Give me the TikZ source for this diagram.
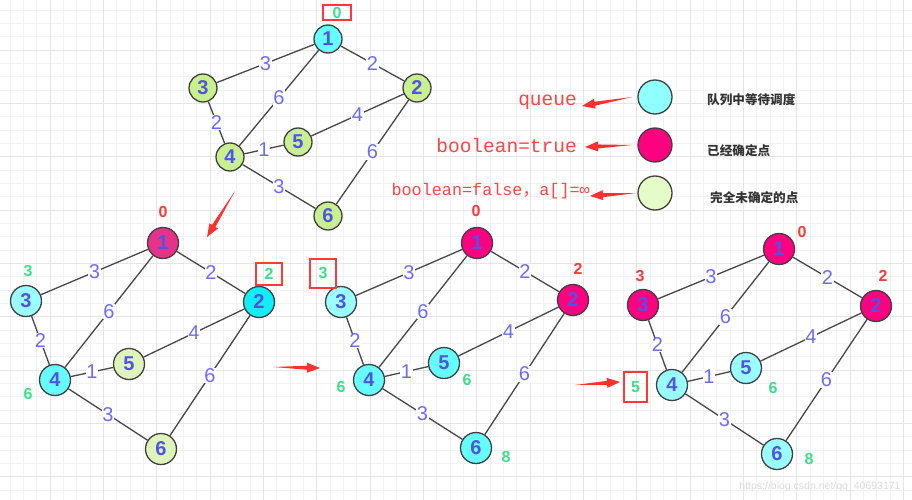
\documentclass[tikz,border=0pt]{standalone}
\usepackage{fontspec}
\setmainfont{Liberation Sans}
\newfontfamily\cjk{Noto Sans CJK SC}
\newfontfamily\codefont{Liberation Mono}
\usetikzlibrary{calc}

\definecolor{cyanq}{HTML}{66FFFF}
\definecolor{cyanl}{HTML}{99FFFF}
\definecolor{cyanb}{HTML}{11EEF8}
\definecolor{cyanleg}{HTML}{8FFFFF}
\definecolor{magok}{HTML}{FF0080}
\definecolor{magpk}{HTML}{E6338A}
\definecolor{greenv}{HTML}{C8F08F}
\definecolor{greenp}{HTML}{DDF5BA}
\definecolor{greenleg}{HTML}{E3FCC8}
\definecolor{numblue}{HTML}{5252E6}
\definecolor{wblue}{HTML}{6B6BFF}
\definecolor{lblgreen}{HTML}{3BE08A}
\definecolor{lblred}{HTML}{FF3838}
\definecolor{txtred}{HTML}{FF4444}
\definecolor{arrred}{HTML}{FF3030}

\newcommand\redarr[2]{\fill[arrred] (#1) -- ($($(#2)!13pt!(#1)$)!2pt!90:(#2)$) -- ($($(#2)!13pt!(#1)$)!5pt!90:(#2)$) -- (#2) -- ($($(#2)!13pt!(#1)$)!5pt!-90:(#2)$) -- ($($(#2)!13pt!(#1)$)!2pt!-90:(#2)$) -- cycle;}

\begin{document}
\begin{tikzpicture}[x=1pt,y=-1pt,
  vert/.style={circle,draw=black!75,line width=1.3pt,minimum size=31pt,inner sep=0pt,text=numblue,font=\fontsize{20}{20}\selectfont\bfseries},
  topv/.style={vert,minimum size=28pt},
  edge/.style={draw=black!72,line width=1.3pt},
  wlbl/.style={fill=white,inner sep=0.5pt,text=wblue,font=\fontsize{20}{20}\selectfont},
  slbl/.style={inner sep=0pt,font=\fontsize{16}{16}\selectfont\bfseries},
  gl/.style={slbl,text=lblgreen},
  rl/.style={slbl,text=lblred},
  lblbox/.style={draw=lblred,line width=1.2pt},
  legv/.style={circle,draw=black!75,line width=1.3pt,minimum size=34pt,inner sep=0pt},
  legcn/.style={anchor=west,inner sep=0pt,text=black!80,font=\cjk\fontsize{12.6}{13}\selectfont\bfseries},
  legcode/.style={anchor=east,inner sep=0pt,text=txtred,font=\codefont\fontsize{19.5}{20}\selectfont}]
\useasboundingbox (0,0) rectangle (912,500);
\fill[white] (0,0) rectangle (912,500);
\foreach \i in {0,...,68}
  \draw[black!5,line width=0.8pt] ({10+\i*13.3333},0) -- ({10+\i*13.3333},500);
\foreach \i in {0,...,37}
  \draw[black!5,line width=0.8pt] (0,{10+\i*13.3333}) -- (912,{10+\i*13.3333});
\foreach \i in {0,...,16}
  \draw[black!10,line width=0.8pt] ({50+\i*53.3333},0) -- ({50+\i*53.3333},500);
\foreach \i in {0,...,8}
  \draw[black!10,line width=0.8pt] (0,{50+\i*53.3333}) -- (912,{50+\i*53.3333});

\node[topv,fill=cyanq] (t1) at (328,39) {1};
\node[topv,fill=greenv] (t2) at (417,88) {2};
\node[topv,fill=greenv] (t3) at (203,88) {3};
\node[topv,fill=greenv] (t4) at (230,157) {4};
\node[topv,fill=greenv] (t5) at (298,142) {5};
\node[topv,fill=greenv] (t6) at (328,216) {6};
\node[gl,lblbox,minimum width=28pt,minimum height=15pt] (t0) at (337,12.5) {0};

\node[vert,fill=magpk] (a1) at (163,243) {1};
\node[vert,fill=cyanb] (a2) at (259,302) {2};
\node[vert,fill=cyanl] (a3) at (26,301) {3};
\node[vert,fill=cyanq] (a4) at (55,380) {4};
\node[vert,fill=greenp] (a5) at (129,364) {5};
\node[vert,fill=greenp] (a6) at (161,449) {6};
\node[rl] (a1d) at (163,212) {0};
\node[gl,lblbox,minimum width=26pt,minimum height=22pt] (a2d) at (269,274) {2};
\node[gl] (a3d) at (28,271) {3};
\node[gl] (a4d) at (28,394) {6};

\node[vert,fill=magok] (b1) at (477,243) {1};
\node[vert,fill=magok] (b2) at (573,300) {2};
\node[vert,fill=cyanl] (b3) at (341,302) {3};
\node[vert,fill=cyanq] (b4) at (369,380) {4};
\node[vert,fill=cyanq] (b5) at (444,363) {5};
\node[vert,fill=cyanq] (b6) at (476,448) {6};
\node[rl] (b1d) at (476,211) {0};
\node[rl] (b2d) at (578,269) {2};
\node[gl,lblbox,minimum width=26pt,minimum height=29pt] (b3d) at (323,273.5) {3};
\node[gl] (b4d) at (341,387) {6};
\node[gl] (b5d) at (467,380) {6};
\node[gl] (b6d) at (506,457) {8};

\node[vert,fill=magok] (c1) at (779,249) {1};
\node[vert,fill=magok] (c2) at (876,306) {2};
\node[vert,fill=magok] (c3) at (643,305) {3};
\node[vert,fill=cyanl] (c4) at (672,385) {4};
\node[vert,fill=cyanl] (c5) at (746,368) {5};
\node[vert,fill=cyanl] (c6) at (777,454) {6};
\node[rl] (c1d) at (802,232) {0};
\node[rl] (c2d) at (883,276) {2};
\node[rl] (c3d) at (640,276) {3};
\node[gl,lblbox,minimum width=23pt,minimum height=30pt] (c4d) at (635.5,387) {5};
\node[gl] (c5d) at (773,388) {6};
\node[gl] (c6d) at (809,459) {8};

\foreach \g in {t,a,b,c}
  \foreach \u/\v/\w in {1/3/3,1/2/2,1/4/6,3/4/2,2/5/4,4/5/1,4/6/3,2/6/6}
    \draw[edge] (\g\u) -- node[wlbl] {\w} (\g\v);

\node[legv,fill=cyanleg] (legq) at (655,97) {};
\node[legv,fill=magok] (legt) at (655,145) {};
\node[legv,fill=greenleg] (legf) at (655,193) {};
\node[legcn] (legqc) at (707,100) {队列中等待调度};
\node[legcn] (legtc) at (707,151) {已经确定点};
\node[legcn] (legfc) at (710,198) {完全未确定的点};
\node[legcode] (qtxt) at (577,102) {queue};
\node[legcode] (ttxt) at (577,146) {boolean=true};
\node[legcode,font=\codefont\fontsize{16.8}{18}\selectfont] (ftxt) at (590,191) {boolean=false{\cjk ，}a[]=∞};

\coordinate (qs) at ([xshift=-5pt]legq.west);
\coordinate (qe) at ([xshift=5pt,yshift=-4pt]qtxt.east);
\coordinate (ts) at ([xshift=-5pt]legt.west);
\coordinate (te) at ([xshift=8pt,yshift=-1pt]ttxt.east);
\coordinate (fs) at ([xshift=-1pt]legf.west);
\coordinate (fe) at ([yshift=-5pt]ftxt.east);
\redarr{qs}{qe}
\redarr{ts}{te}
\redarr{fs}{fe}

\coordinate (dns) at (235,191);
\coordinate (dne) at (207,237);
\coordinate (r1s) at (273,367);
\coordinate (r1e) at (320,368);
\coordinate (r2s) at (575,385);
\coordinate (r2e) at (620,382);
\redarr{dns}{dne}
\redarr{r1s}{r1e}
\redarr{r2s}{r2e}

\node[text=black!14,font=\fontsize{10.5}{11}\selectfont] (wm) at (820,487) {https://blog.csdn.net/qq\_40693171};
\end{tikzpicture}
\end{document}
